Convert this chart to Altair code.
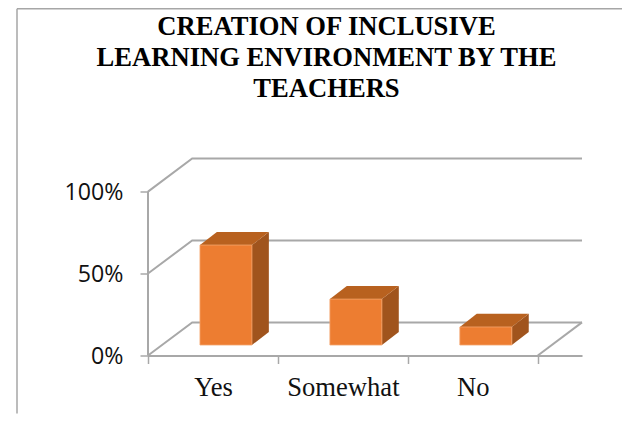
import altair as alt
import pandas as pd

categories = ["Yes", "Somewhat", "No"]
values = [61, 28, 11]
y_ticks = [0, 50, 100]
title_lines = ["CREATION OF INCLUSIVE", "LEARNING ENVIRONMENT BY THE", "TEACHERS"]

# depth of the pseudo-3D box, in data units
WALL_DX, WALL_DY = 0.34, 20.2
BAR_DX, BAR_DY = 0.13, 8.0
BASE_DY = 6.4
BAR_L, BAR_W = 0.40, 0.40
XMAX = 3 + WALL_DX
YMAX = 100 + WALL_DY
GRID = "#a8a8a8"

x_scale = alt.Scale(domain=[0, XMAX], nice=False, zero=False)
y_scale = alt.Scale(domain=[0, YMAX], nice=False, zero=False)

front, side, top = [], [], []
for i, (c, v) in enumerate(zip(categories, values)):
    l, r = i + BAR_L, i + BAR_L + BAR_W
    b, t = BASE_DY, BASE_DY + v
    front.append(dict(cat=c, x=l, x2=r, y=b, y2=t))
    side += [dict(cat=c, x=r, y=b, y2=t), dict(cat=c, x=r + BAR_DX, y=b + BAR_DY, y2=t + BAR_DY)]
    top += [dict(cat=c, x=l, x2=r, y=t), dict(cat=c, x=l + BAR_DX, x2=r + BAR_DX, y=t + BAR_DY)]

walls = []
for v in y_ticks:
    walls += [dict(k=f"w{v}", x=0, y=v), dict(k=f"w{v}", x=WALL_DX, y=v + WALL_DY), dict(k=f"w{v}", x=XMAX, y=v + WALL_DY)]
walls += [dict(k="r", x=3, y=0), dict(k="r", x=XMAX, y=WALL_DY), dict(k="l", x=0, y=0), dict(k="l", x=0, y=100)]

X = alt.X("x:Q", scale=x_scale, title=None,
          axis=alt.Axis(orient="bottom", values=[0, 1, 2, 3], labels=False, grid=False,
                        domainColor=GRID, domainWidth=2, tickColor=GRID, tickWidth=1.5, tickSize=8))
Y = alt.Y("y:Q", scale=y_scale, title=None,
          axis=alt.Axis(values=y_ticks, labelExpr="datum.value + '%'", grid=False, domain=False,
                        tickColor=GRID, tickWidth=1.5, tickSize=8, labelOffset=1,
                        labelFont="Open Sans", labelFontSize=23.2, labelColor="#111111", labelPadding=17))
Xn = alt.X("x:Q", scale=x_scale, axis=None)

wall_layer = alt.Chart(pd.DataFrame(walls)).mark_line(color=GRID, strokeWidth=2).encode(x=X, y=Y, detail="k:N")

side_layer = alt.Chart(pd.DataFrame(side)).mark_area(color="#a0541d", orient="vertical").encode(
    x=Xn, y=Y, y2="y2:Q", detail="cat:N")
top_layer = alt.Chart(pd.DataFrame(top)).mark_area(color="#b8611f", orient="horizontal").encode(
    x=Xn, x2="x2:Q", y=Y, detail="cat:N")
front_layer = alt.Chart(pd.DataFrame(front)).mark_bar(color="#ed7d31", stroke="#f4a56c", strokeWidth=0.8).encode(
    x=Xn, x2="x2:Q", y=Y, y2="y2:Q")

label_df = pd.DataFrame(dict(x=[i + 0.5 for i in range(3)], y=[0, 0, 0], cat=categories))
label_expr = "{0.5:'%s',1.5:'%s',2.5:'%s'}[datum.value]" % tuple(categories)
labels = alt.Chart(label_df).mark_point(opacity=0).encode(
    y=Y,
    x=alt.X("x:Q", scale=x_scale, title=None,
            axis=alt.Axis(orient="bottom", values=[0.5, 1.5, 2.5], labelExpr=label_expr, ticks=False, domain=False,
                          grid=False, labelFont="Liberation Serif", labelFontSize=26.6, labelColor="#111111",
                          labelPadding=19)))

frame_top = alt.Chart(pd.DataFrame({"a": [0]})).mark_rule(color="#a6a6a6", strokeWidth=1.5).encode(
    x=alt.value(-131), x2=alt.value(480), y=alt.value(-149.7))
frame_left = alt.Chart(pd.DataFrame({"a": [0]})).mark_rule(color="#a6a6a6", strokeWidth=1.5).encode(
    x=alt.value(-131), y=alt.value(-149.7), y2=alt.value(255))

chart = alt.layer(wall_layer, side_layer, top_layer, front_layer, labels, frame_top, frame_left
).resolve_axis(x="independent").properties(
    width=434, height=197,
    padding={"left": 140, "top": 150.5, "right": 40, "bottom": 58},
    autosize=alt.AutoSizeParams(type="none"),
    title=alt.TitleParams(text=title_lines, font="Liberation Serif", fontWeight="bold", fontSize=26.6,
                          lineHeight=31, color="#000000", anchor="middle", dx=-38.5, dy=95, offset=0),
).configure_view(stroke=None)

chart.save("out.html", embed_options={"renderer": "svg", "actions": False})
